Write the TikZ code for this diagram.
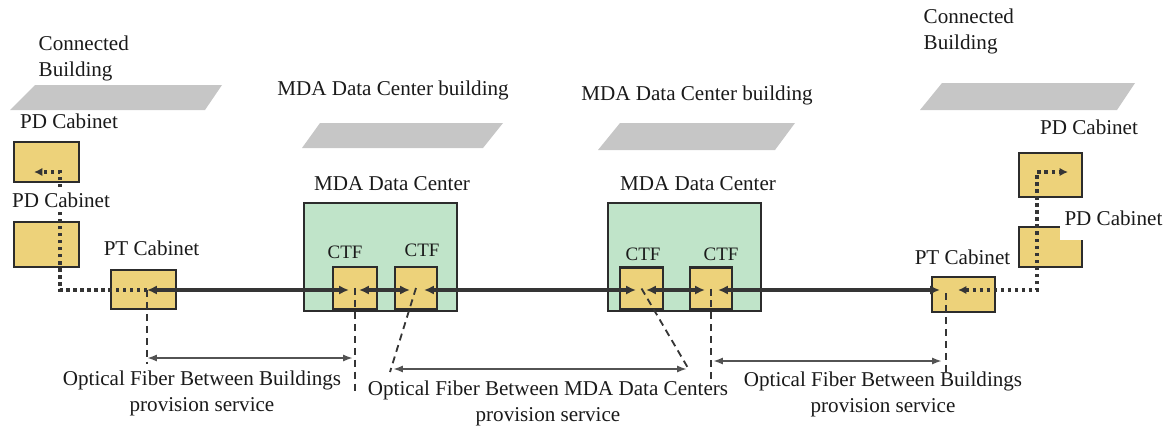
\documentclass[tikz,border=0pt]{standalone}
\usepackage{fontspec}
\setmainfont{Liberation Serif}
\usetikzlibrary{arrows.meta}
\definecolor{cabFill}{HTML}{EDD27A}
\definecolor{dcFill}{HTML}{C0E4C9}
\definecolor{bldgGray}{HTML}{C6C6C6}
\definecolor{wire}{HTML}{353535}
\definecolor{edge}{HTML}{2C2C2C}
\definecolor{ink}{HTML}{1A1A1A}
\tikzset{
  cabinet/.style={draw=edge, fill=cabFill, line width=1.6pt, inner sep=0pt},
  dcbox/.style={draw=edge, fill=dcFill, line width=1.5pt, inner sep=0pt},
  lbl/.style={text=ink, font=\fontsize{15}{18.5}\selectfont, inner sep=1pt},
  ctflbl/.style={text=ink, font=\fontsize{13.5}{16}\selectfont, inner sep=1pt},
  fibre/.style={draw=wire, line width=2.5pt, {Latex[length=7pt,width=6.5pt]}-{Latex[length=7pt,width=6.5pt]}},
  patch/.style={draw=wire, line width=2.6pt, dash pattern=on 2.4pt off 2.6pt},
  guide/.style={draw=wire, line width=1.3pt, dash pattern=on 5pt off 3.5pt},
  span/.style={draw=wire!85, line width=1.3pt, {Latex[length=7pt,width=5pt]}-{Latex[length=7pt,width=5pt]}},
}

\begin{document}
\begin{tikzpicture}[x=0.025cm, y=-0.025cm]
        \useasboundingbox (0,0) rectangle (1169,428);

        % buildings
        \fill[bldgGray] (35,85) -- (222,85) -- (205,110) -- (10,110) -- cycle;
        \fill[bldgGray] (320,123) -- (503,123) -- (483,148) -- (302,148) -- cycle;
        \fill[bldgGray] (620,123) -- (795,123) -- (775,150) -- (598,150) -- cycle;
        \fill[bldgGray] (942,83) -- (1135,83) -- (1117,110) -- (920,110) -- cycle;

        % data centers
        \node[dcbox, minimum width=3.825cm, minimum height=2.7cm] (dcA) at (380.5,257) {};
        \node[dcbox, minimum width=3.825cm, minimum height=2.7cm] (dcB) at (684.5,257) {};

        % cabinets
        \node[cabinet, minimum width=1.625cm, minimum height=1cm]     (pdL1)  at (46.5,162)   {};
        \node[cabinet, minimum width=1.625cm, minimum height=1.125cm] (pdL2)  at (46.5,244.5) {};
        \node[cabinet, minimum width=1.625cm, minimum height=0.975cm] (ptL)   at (143.5,289.5) {};
        \node[cabinet, minimum width=1.1cm,   minimum height=1.05cm]  (ctfA1) at (355,288)    {};
        \node[cabinet, minimum width=1.05cm,  minimum height=1.05cm]  (ctfA2) at (416,288)    {};
        \node[cabinet, minimum width=1.075cm, minimum height=1.05cm]  (ctfB1) at (641.5,288.5) {};
        \node[cabinet, minimum width=1.05cm,  minimum height=1.05cm]  (ctfB2) at (711,288.5)  {};
        \node[cabinet, minimum width=1.575cm, minimum height=0.875cm] (ptR)   at (963.5,294.5) {};
        \node[cabinet, minimum width=1.575cm, minimum height=1.1cm]   (pdR1)  at (1050.5,175) {};
        \node[cabinet, minimum width=1.575cm, minimum height=1cm]     (pdR2)  at (1050.5,247) {};

        % fibre end points
        \coordinate (tL) at (147,290);
        \coordinate (a1) at (349,290);
        \coordinate (a2) at (359,290);
        \coordinate (a3) at (410,290);
        \coordinate (a4) at (424,290);
        \coordinate (b1) at (636,290);
        \coordinate (b2) at (646,290);
        \coordinate (b3) at (705,290);
        \coordinate (b4) at (718,290);
        \coordinate (tR) at (940,290);
        \coordinate (pR) at (958,290);
        \coordinate (bendL) at (60,172);
        \coordinate (tipL) at (34,172);
        \coordinate (bendR) at (1037,172);
        \coordinate (tipR) at (1068,172);

        \draw[fibre] (tL) -- (a1);
        \draw[fibre] (a2) -- (a3);
        \draw[fibre] (a4) -- (b1);
        \draw[fibre] (b2) -- (b3);
        \draw[fibre] (b4) -- (tR);

        \draw[patch, -{Latex[length=6pt,width=6pt]}] (tL) -| (bendL) -- (tipL);
        \draw[patch, {Latex[length=6pt,width=6pt]}-{Latex[length=6pt,width=6pt]}] (pR) -| (bendR) -- (tipR);

        % guides
        \coordinate (gL)    at (147,364);
        \coordinate (gA1)   at (355,392);
        \coordinate (gA2)   at (390,372);
        \coordinate (gB1)   at (688,368);
        \coordinate (gB2)   at (711,380);
        \coordinate (gRtop) at (946,293);
        \coordinate (gR)    at (946,372);
        \draw[guide] (tL) -- (gL);
        \draw[guide] (ctfA1.center) -- (gA1);
        \draw[guide] (ctfA2.center) -- (gA2);
        \draw[guide] (ctfB1.center) -- (gB1);
        \draw[guide] (ctfB2.center) -- (gB2);
        \draw[guide] (gRtop) -- (gR);

        % spans
        \coordinate (sL1) at (147,358);
        \coordinate (sL2) at (353,358);
        \coordinate (sM1) at (393,369);
        \coordinate (sM2) at (687,369);
        \coordinate (sR1) at (713,361);
        \coordinate (sR2) at (942,361);
        \draw[span] (sL1) -- (sL2);
        \draw[span] (sM1) -- (sM2);
        \draw[span] (sR1) -- (sR2);

        % labels
        \node[lbl, align=left, anchor=west] (cbL) at (37,58.5) {Connected\\Building};
        \node[lbl, align=left, anchor=west] (cbR) at (922,31) {Connected\\Building};
        \node[lbl] (mdaA) at (393,90) {MDA Data Center building};
        \node[lbl] (mdaB) at (697,95) {MDA Data Center building};
        \node[lbl] (dcAl) at (392,184) {MDA Data Center};
        \node[lbl] (dcBl) at (698,184) {MDA Data Center};
        \node[ctflbl] (ctfA1l) at (345,252) {CTF};
        \node[ctflbl] (ctfA2l) at (422,250) {CTF};
        \node[ctflbl] (ctfB1l) at (643,254) {CTF};
        \node[ctflbl] (ctfB2l) at (721,254) {CTF};
        \node[lbl, fill=white, inner xsep=3pt, inner ysep=0.5pt] (pdL1l) at (69,121) {PD Cabinet};
        \node[lbl, fill=white, inner sep=2pt] (pdL2l) at (61,200) {PD Cabinet};
        \node[lbl] (ptLl) at (151.5,248) {PT Cabinet};
        \node[lbl] (pdR1l) at (1089,127) {PD Cabinet};
        \node[lbl, fill=white, anchor=base west, inner xsep=3pt, inner ysep=1pt, text height=13pt, text depth=9.7pt] (pdR2l) at (1060,225) {PD Cabinet};
        \node[lbl] (ptRl) at (962.5,257) {PT Cabinet};

        \node[lbl, align=center] (txtL) at (202,393.5) {Optical Fiber Between Buildings\\provision service};
        \node[lbl, align=center] (txtM) at (548,403.5) {Optical Fiber Between MDA Data Centers\\provision service};
        \node[lbl, align=center] (txtR) at (883,394) {Optical Fiber Between Buildings\\provision service};
    \end{tikzpicture}
\end{document}
